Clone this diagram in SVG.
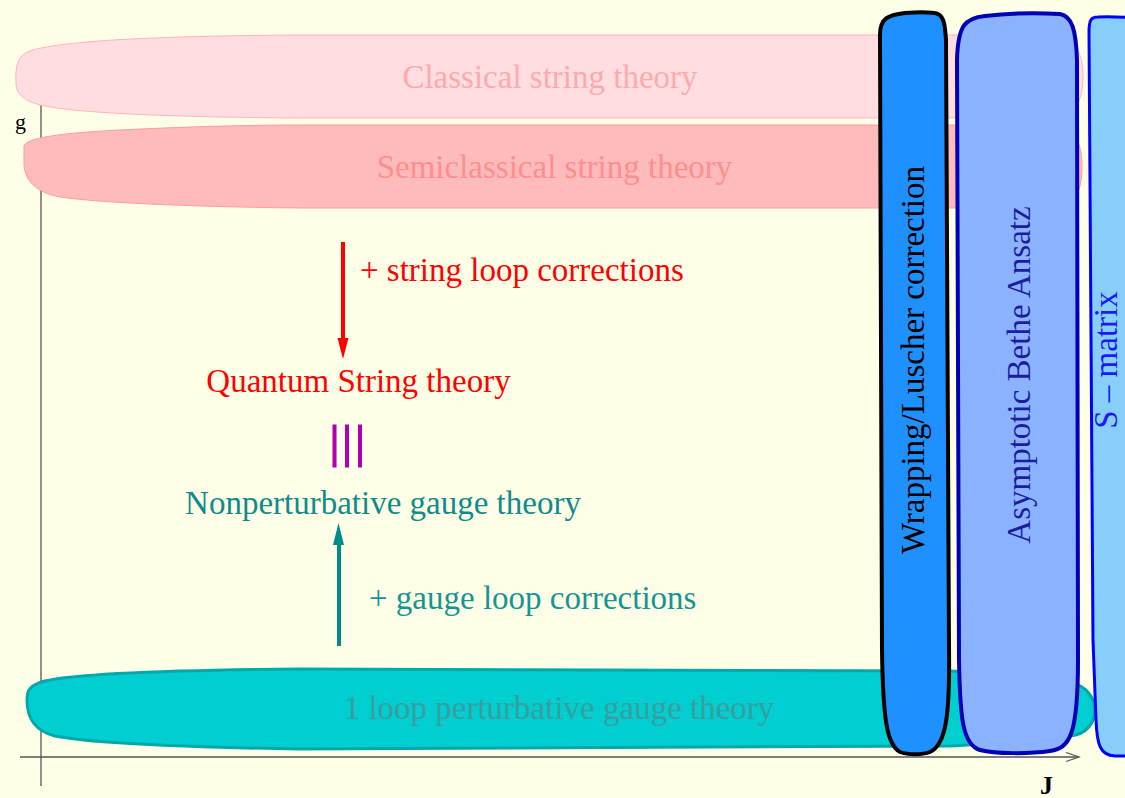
<svg xmlns="http://www.w3.org/2000/svg" width="1125" height="798" viewBox="0 0 1125 798">
<style>
text{font-family:"Liberation Serif","Times New Roman",serif;font-size:33px}
.mid{text-anchor:middle}
.axis{stroke:#555;stroke-width:1.3;fill:none}
</style>
<rect x="0" y="0" width="1125" height="798" fill="#FFFFE8"/>
<g id="axes">
<line class="axis" x1="41" y1="100" x2="41" y2="786"/>
<line class="axis" x1="20" y1="757" x2="1079" y2="757"/>
<polyline class="axis" points="1066,752.5 1079,757 1066,761.5"/>
<text x="15" y="129" style="font-size:22px">g</text>
<text x="1040" y="794" style="font-size:26px;font-weight:bold">J</text>
</g>
<g id="classical">
<path d="M 16,83 C 15,65 18,55 30,51 C 60,41 150,36 300,35 L 1050,35 C 1076,35 1083,55 1083,76 C 1083,100 1076,118 1050,118 L 300,118 C 150,117 70,112 40,105 C 22,100 16,93 16,83 Z" fill="#FFDDE1" stroke="#FFB4BC" stroke-width="1"/>
<text class="mid" x="550" y="88" fill="#FFAAAA">Classical string theory</text>
</g>
<g id="semiclassical">
<path d="M 24,146 C 26,138 60,133 120,130 C 200,126 260,125 300,125 L 1050,125 C 1076,125 1082,145 1082,166 C 1082,190 1076,208 1050,208 L 300,208 C 200,207 100,203 60,197 C 35,192 25,180 24,165 Z" fill="#FFBBBB" stroke="#FF9C9C" stroke-width="1"/>
<text class="mid" x="554.5" y="178" fill="#FF8E8E">Semiclassical string theory</text>
</g>
<g id="oneloop">
<path d="M 27,700 C 27,690 30,685 45,681 C 80,673 180,670 300,669 L 950,671 C 1000,673 1050,680 1070,683 C 1102,687 1104,733 1070,736 C 1020,740 990,744 950,746 L 300,749 C 180,747 90,743 55,736 C 35,731 27,718 27,700 Z" fill="#00CED1" stroke="#00A9A9" stroke-width="3"/>
<text class="mid" x="559" y="719" fill="#3A9E9E">1 loop perturbative gauge theory</text>
</g>
<g id="connectors">
<line x1="343" y1="242" x2="343" y2="340" stroke="#FF0000" stroke-width="4"/>
<polygon points="337.5,338 348.5,338 343,359" fill="#FF0000"/>
<line x1="339" y1="646" x2="339" y2="542" stroke="#008B8B" stroke-width="4"/>
<polygon points="333,545 344,545 338.5,523" fill="#008B8B"/>
</g>
<g id="stringloop">
<text x="360" y="281" fill="#FF0000">+ string loop corrections</text>
</g>
<g id="quantum">
<text class="mid" x="358.5" y="392" fill="#FF0000">Quantum String theory</text>
</g>
<g id="equiv">
<rect x="332.5" y="424.5" width="4" height="43" fill="#B000B0"/>
<rect x="345" y="424.5" width="4" height="43" fill="#B000B0"/>
<rect x="358" y="424.5" width="4" height="43" fill="#B000B0"/>
</g>
<g id="nonpert">
<text class="mid" x="383" y="514" fill="#0E8C8C">Nonperturbative gauge theory</text>
</g>
<g id="gaugeloop">
<text x="369" y="609" fill="#169494">+ gauge loop corrections</text>
</g>
<g id="wrapping">
<path d="M 880,35 C 880,18 888,15 905,13 C 920,12 932,12 938,14 C 944,17 945,25 946,40 L 949,650 C 950,720 945,745 930,752 C 922,755 908,755 900,752 C 887,745 883,720 882,650 Z" fill="#1E90FF" stroke="#000" stroke-width="4"/>
<text class="mid" transform="translate(924,360) rotate(-90)" fill="#000">Wrapping/Luscher correction</text>
</g>
<g id="aba">
<path d="M 957,60 C 958,25 965,18 985,16 C 1010,13 1040,13 1060,14 C 1072,16 1076,30 1077,60 L 1078,660 C 1078,735 1070,748 1050,751 C 1030,754 995,754 980,750 C 963,745 960,720 959,660 Z" fill="#8AB2FF" stroke="#0000B4" stroke-width="4"/>
<text class="mid" transform="translate(1030,375) rotate(-90)" fill="#1C1CA0">Asymptotic Bethe Ansatz</text>
</g>
<g id="smatrix">
<path d="M 1089,32 C 1089,20 1091,17 1098,17 C 1110,16 1120,17 1135,18 L 1135,756 L 1115,756 C 1100,755 1097,745 1096,720 L 1093,640 Z" fill="#87CEFA" stroke="#0000FF" stroke-width="3"/>
<text class="mid" transform="translate(1117,360) rotate(-90)" fill="#1A1AFF">S – matrix</text>
</g>
</svg>
